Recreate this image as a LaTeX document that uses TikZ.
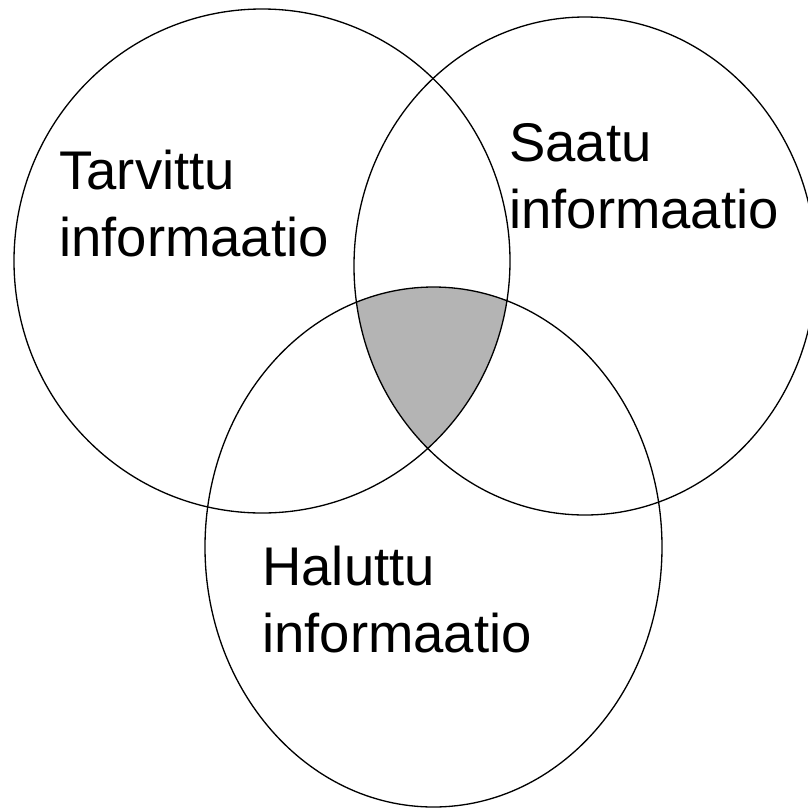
\documentclass[tikz,border=0pt]{standalone}
\usepackage{fontspec}
\setmainfont{Liberation Sans}
\definecolor{venngray}{RGB}{180,180,180}

\begin{document}
\begin{tikzpicture}[x=1cm,y=1cm,every node/.style={font=\fontsize{31}{37.6}\selectfont},
  setline/.style={black,line width=0.75pt},
  setlabel/.style={anchor=base west,align=left,inner sep=0pt}]
\useasboundingbox (0,0) rectangle (16.16,-16.18);
\begin{scope}
\clip (5.24,-5.22) ellipse [x radius=4.96, y radius=5.04];
\clip (11.70,-5.32) ellipse [x radius=4.62, y radius=4.98];
\fill[venngray] (8.67,-10.94) ellipse [x radius=4.57, y radius=5.20];
\end{scope}
\draw[setline] (5.24,-5.22) ellipse [x radius=4.96, y radius=5.04];
\draw[setline] (11.70,-5.32) ellipse [x radius=4.62, y radius=4.98];
\draw[setline] (8.67,-10.94) ellipse [x radius=4.57, y radius=5.20];
\node[setlabel] (tarvittu) at (1.18,-5.12) {Tarvittu\\informaatio};
\node[setlabel] (saatu) at (10.18,-4.56) {Saatu\\informaatio};
\node[setlabel] (haluttu) at (5.24,-13.04) {Haluttu\\informaatio};
\end{tikzpicture}
\end{document}
